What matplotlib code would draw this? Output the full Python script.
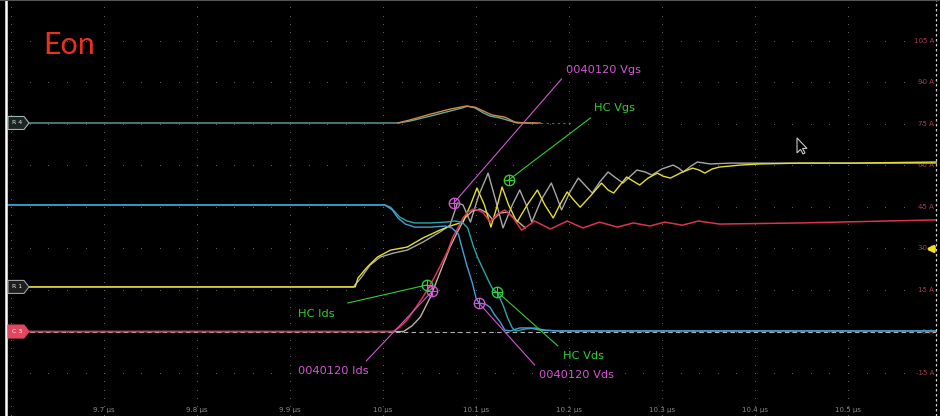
import numpy as np
import matplotlib.pyplot as plt
from matplotlib.patches import Polygon

# ---- traces: time in us, amplitude in A (screen units)
vgs_hc_t = [9.620, 9.970, 9.973, 9.983, 9.994, 10.008, 10.026, 10.043, 10.061, 10.075,
            10.086, 10.094, 10.101, 10.109, 10.116, 10.123, 10.128, 10.135, 10.144, 10.155,
            10.166, 10.174, 10.183, 10.190, 10.198, 10.205, 10.212, 10.224, 10.235, 10.242,
            10.248, 10.255, 10.262, 10.269, 10.276, 10.285, 10.295, 10.301, 10.309, 10.322,
            10.333, 10.340, 10.346, 10.354, 10.362, 10.384, 10.405, 10.448, 10.502, 10.595]
vgs_hc = [16.1, 16.1, 19.3, 23.3, 26.9, 29.4, 30.5, 33.8, 36.6, 38.4,
          39.5, 45.7, 51.8, 45.7, 37.7, 45.7, 52.2, 45.7, 39.5, 45.7,
          51.1, 45.7, 41.0, 45.7, 50.4, 47.5, 44.9, 49.3, 53.6, 51.1,
          50.0, 52.9, 55.8, 54.3, 52.9, 55.4, 57.2, 56.1, 55.4, 57.6,
          59.0, 58.3, 57.2, 58.7, 59.4, 60.1, 60.5, 60.8, 60.8, 61.2]

vgs_ref_t = [9.620, 9.968, 9.977, 9.986, 9.997, 10.011, 10.026, 10.043, 10.061, 10.072,
             10.080, 10.086, 10.094, 10.103, 10.113, 10.121, 10.129, 10.139, 10.147, 10.154,
             10.160, 10.170, 10.181, 10.186, 10.192, 10.201, 10.210, 10.217, 10.225, 10.233,
             10.242, 10.249, 10.258, 10.266, 10.273, 10.282, 10.289, 10.300, 10.312, 10.318,
             10.323, 10.331, 10.338, 10.352, 10.373, 10.405, 10.502, 10.595]
vgs_ref = [16.1, 16.1, 19.7, 24.0, 26.9, 28.3, 29.4, 32.3, 35.9, 38.4,
           46.4, 45.7, 39.5, 49.3, 57.2, 47.5, 37.4, 45.7, 51.1, 45.7,
           39.5, 47.5, 53.6, 49.3, 43.9, 50.4, 55.4, 52.9, 50.0, 54.0,
           57.6, 55.8, 53.6, 56.1, 58.3, 57.6, 56.5, 58.7, 60.1, 59.0,
           57.6, 59.7, 61.2, 60.5, 60.8, 60.8, 60.8, 60.8]

ids_hc_t = [9.620, 10.011, 10.018, 10.026, 10.034, 10.043, 10.053, 10.061, 10.069, 10.075,
            10.081, 10.086, 10.091, 10.097, 10.102, 10.108, 10.115, 10.123, 10.131, 10.140,
            10.149, 10.163, 10.180, 10.198, 10.215, 10.233, 10.252, 10.269, 10.287, 10.303,
            10.322, 10.339, 10.362, 10.448, 10.595]
ids_hc = [0.0, 0.0, 1.6, 4.2, 8.1, 12.5, 18.2, 23.3, 28.7, 34.1,
          37.7, 41.0, 43.1, 44.2, 43.9, 42.8, 39.5, 42.4, 43.9, 41.0,
          36.6, 39.9, 37.0, 39.9, 37.4, 39.5, 37.7, 39.2, 38.1, 39.5,
          38.4, 39.9, 38.8, 39.2, 40.3]

ids_ref_t = [9.620, 10.022, 10.031, 10.040, 10.051, 10.061, 10.072, 10.081, 10.088, 10.096,
             10.104, 10.112, 10.118, 10.126, 10.134, 10.143, 10.153]
ids_ref = [0.0, 0.0, 2.0, 5.2, 12.5, 21.1, 30.5, 36.6, 41.0, 43.5,
           44.2, 42.8, 40.3, 42.8, 43.1, 40.3, 37.4]

vds_hc_t = [9.595, 10.002, 10.008, 10.013, 10.018, 10.026, 10.034, 10.051, 10.067, 10.077,
            10.085, 10.091, 10.097, 10.102, 10.108, 10.113, 10.118, 10.123, 10.129, 10.134,
            10.139, 10.143, 10.153, 10.163, 10.174, 10.190, 10.595]
vds_hc = [45.7, 45.7, 44.9, 43.1, 41.3, 39.9, 39.2, 39.2, 39.5, 39.9,
          39.5, 37.4, 30.9, 26.5, 22.2, 18.6, 15.3, 13.9, 9.6, 4.9,
          1.3, 0.2, 0.9, 1.3, 0.5, 0.2, 0.2]

vds_ref_t = [9.595, 10.002, 10.010, 10.016, 10.024, 10.034, 10.051, 10.067, 10.074, 10.081,
             10.085, 10.090, 10.096, 10.100, 10.103, 10.110, 10.115, 10.120, 10.126, 10.131,
             10.137, 10.147, 10.158, 10.169, 10.190, 10.595]
vds_ref = [45.7, 45.7, 43.9, 41.0, 38.8, 37.7, 37.7, 38.1, 37.4, 35.2,
           30.1, 24.0, 17.5, 12.1, 10.3, 9.9, 8.8, 6.0, 3.4, 0.5,
           0.2, 1.3, 1.3, 0.5, 0.2, 0.2]

# R4 reference trace (teal) and its overlay (orange)
r4_t = [9.620, 10.016, 10.029, 10.051, 10.072, 10.085, 10.091, 10.099, 10.108, 10.115,
        10.126, 10.137, 10.144, 10.163]
r4 = [75.3, 75.3, 76.0, 77.8, 79.6, 80.7, 81.4, 80.7, 78.9, 77.8,
      77.1, 76.0, 75.3, 75.3]
r4b_t = [10.016, 10.029, 10.051, 10.072, 10.089, 10.099, 10.108, 10.117, 10.131, 10.142,
         10.153, 10.169]
r4b = [75.3, 76.4, 78.5, 80.3, 81.4, 81.0, 79.6, 78.2, 77.4, 75.6,
       75.3, 75.3]

# cursor markers: label, marker point, leader end, text position
labels = ["0040120 Vgs", "HC Vgs", "HC Ids", "0040120 Ids", "0040120 Vds", "HC Vds"]
mark_t = [10.076, 10.135, 10.047, 10.053, 10.103, 10.123]
mark_a = [46.4, 54.7, 16.8, 14.6, 10.3, 14.3]
end_t = [10.192, 10.223, 9.962, 9.982, 10.163, 10.188]
end_a = [91.2, 77.1, 10.3, -10.6, -12.1, -5.2]
text_t = [10.197, 10.227, 9.908, 9.908, 10.168, 10.194]
text_a = [94.6, 80.7, 6.3, -14.3, -15.7, -8.8]

time_ticks = [9.7, 9.8, 9.9, 10.0, 10.1, 10.2, 10.3, 10.4, 10.5]
time_labels = ["9.7 µs", "9.8 µs", "9.9 µs", "10 µs", "10.1 µs", "10.2 µs",
               "10.3 µs", "10.4 µs", "10.5 µs"]
amp_ticks = [105, 90, 75, 60, 45, 30, 15, 0, -15]
amp_labels = ["105 A", "90 A", "75 A", "60 A", "45 A", "30 A", "15 A", "0 A", "-15 A"]

MAG = "#d455d4"
GRN = "#33cc33"

XMIN, XMAX = 9.588, 10.599
YMIN, YMAX = -30.5, 119.7
W, H = 940, 416
dx = (XMAX - XMIN) / W
dy = (YMAX - YMIN) / H

fig = plt.figure(figsize=(9.4, 4.16), dpi=100, facecolor="black")
ax = fig.add_axes([0, 0, 1, 1])
ax.set_facecolor("black")
ax.set_xlim(XMIN, XMAX)
ax.set_ylim(YMIN, YMAX)
ax.axis("off")

# dotted graticule
for gx in np.arange(9.6, 10.55, 0.1):
    ys = np.arange(-30, 120, 3)
    ax.scatter(np.full(len(ys), gx), ys, s=0.6, color="#6a6a6a", lw=0, zorder=1)
for gy in np.arange(-15, 110, 15):
    xs = np.arange(9.6, 10.6, 0.02)
    ax.scatter(xs, np.full(len(xs), gy), s=0.6, color="#6a6a6a", lw=0, zorder=1)

# zero reference dashed line
ax.plot([9.62, 10.595], [0, 0], color="#b0b0b0", lw=0.8, ls=(0, (4, 3)), zorder=2)

# traces
ax.plot(r4_t, r4, color="#66a89e", lw=1.0, zorder=3)
ax.plot([10.163, 10.205], [75.3, 75.3], color="#66a89e", lw=0.8, ls=(0, (2, 3)), alpha=0.7, zorder=3)
ax.plot(r4b_t, r4b, color="#d08848", lw=1.0, zorder=3)
ax.plot(vgs_ref_t, vgs_ref, color="#a8a8a8", lw=1.0, zorder=4)
ax.plot(vgs_hc_t, vgs_hc, color="#e6df2a", lw=1.0, zorder=5)
ax.plot(ids_ref_t, ids_ref, color="#c0b0ac", lw=1.0, zorder=4)
ax.plot(ids_hc_t, ids_hc, color="#d9344c", lw=1.1, zorder=5)
ax.plot(vds_hc_t, vds_hc, color="#2aa6a8", lw=1.0, zorder=5)
ax.plot(vds_ref_t, vds_ref, color="#4a9ed8", lw=1.0, zorder=5)

# cursor markers with leader lines and labels
for i, lab in enumerate(labels):
    c = GRN if lab.startswith("HC") else MAG
    ax.plot([mark_t[i], end_t[i]], [mark_a[i], end_a[i]], color=c, lw=0.8, zorder=6)
    ax.plot(mark_t[i], mark_a[i], marker="o", ms=7.5, mfc="none", mec=c, mew=1.0, zorder=7)
    ax.plot(mark_t[i], mark_a[i], marker="+", ms=7.5, mec=c, mew=0.8, zorder=7)
    ax.text(text_t[i], text_a[i], lab, color=c, fontsize=8.2, ha="left", va="center", zorder=8)

# axis annotations as on the scope screen
for tt, tl in zip(time_ticks, time_labels):
    ax.text(tt, YMIN + 6 * dy, tl, color="#8c8c8c", fontsize=5, ha="center", va="center")
for at, al in zip(amp_ticks, amp_labels):
    ax.text(XMAX - 6 * dx, at, al, color="#b03a50", fontsize=5, ha="right", va="center")

# trigger arrow
ax.annotate("", xy=(XMAX - 17 * dx, 29.8), xytext=(XMAX - 3 * dx, 29.8),
            arrowprops=dict(arrowstyle="-|>", color="#f2e41c", lw=2.2, mutation_scale=9), zorder=9)

# screen borders
ax.axvline(XMIN + 6 * dx, color="white", lw=1.8, zorder=9)
ax.axvline(XMIN + 936 * dx, color="#d0d0d0", lw=0.9, ls=(0, (2, 2)), zorder=9)
ax.axhline(YMAX - 0.5 * dy, color="#555555", lw=1.5, zorder=9)

# channel badges
def badge(level, text, fc, ec, tc):
    x0 = XMIN + 8 * dx
    pts = [(x0, level - 6.5 * dy), (x0 + 16 * dx, level - 6.5 * dy), (x0 + 21 * dx, level),
           (x0 + 16 * dx, level + 6.5 * dy), (x0, level + 6.5 * dy)]
    ax.add_patch(Polygon(pts, closed=True, fc=fc, ec=ec, lw=0.8, zorder=10))
    ax.text(x0 + 9 * dx, level, text, color=tc, fontsize=4.5, ha="center", va="center", zorder=11)

badge(75.3, "R 4", "#1b2624", "#9fb4ae", "#e0e0e0")
badge(16.1, "R 1", "#1e1e1e", "#a0a0a0", "#e0e0e0")
badge(0.0, "C 3", "#e2475f", "#e2475f", "white")

# mouse pointer
cx, cy = XMIN + 797 * dx, 69.9
ptr = [(0, 0), (0, 15), (3.5, 11.5), (6, 16), (8, 15), (5.5, 10.5), (10, 10.5)]
ax.add_patch(Polygon([(cx + px * dx, cy - py * dy) for px, py in ptr], closed=True,
                     fc="black", ec="#c8c8c8", lw=0.8, zorder=10))

# title
ax.text(43 / W, 1 - 45 / H, "Eon", transform=ax.transAxes, color="#e8321e",
        fontsize=22, family=["Lato", "DejaVu Sans"], ha="left", va="center")

fig.savefig("out.png", dpi=100, facecolor="black")
